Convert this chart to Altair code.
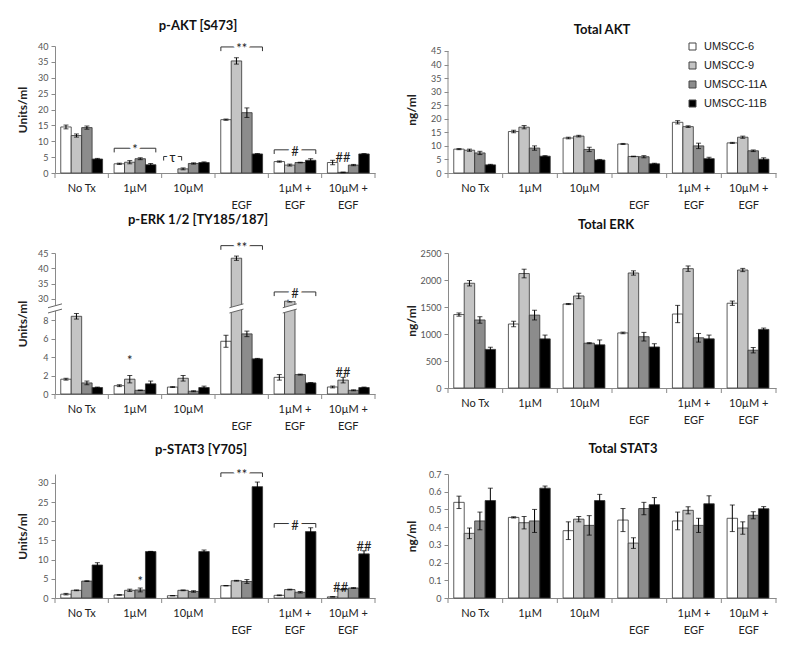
import altair as alt
import pandas as pd

# ---------------- data ----------------
groups = ["No Tx", "1µM", "10µM", "EGF", "1µM + EGF", "10µM + EGF"]
series = ["UMSCC-6", "UMSCC-9", "UMSCC-11A", "UMSCC-11B"]
shade = ["#ffffff", "#c4c4c4", "#8c8c8c", "#000000"]

pakt_val = [[14.5, 11.8, 14.3, 4.4], [2.9, 3.4, 4.5, 2.6], [None, 1.3, 3.0, 3.3],
            [16.8, 35.3, 19.0, 6.0], [3.6, 2.5, 3.3, 4.0], [3.3, 0.2, 2.5, 6.0]]
pakt_err = [[0.6, 0.5, 0.5, 0.2], [0.2, 0.5, 0.3, 0.4], [0.0, 0.3, 0.2, 0.2],
            [0.2, 1.0, 1.5, 0.1], [0.2, 0.3, 0.1, 0.5], [0.7, 0.1, 0.2, 0.1]]

takt_val = [[8.8, 8.4, 7.4, 3.0], [15.3, 16.9, 9.2, 6.2], [12.9, 13.6, 8.7, 4.8],
            [10.7, 6.1, 6.0, 3.4], [18.7, 17.1, 10.0, 5.3], [11.1, 13.2, 8.2, 5.1]]
takt_err = [[0.2, 0.4, 0.6, 0.2], [0.5, 0.6, 0.8, 0.2], [0.3, 0.3, 0.8, 0.2],
            [0.2, 0.1, 0.4, 0.2], [0.6, 0.3, 1.0, 0.5], [0.2, 0.4, 0.3, 0.5]]

perk_val = [[1.6, 8.4, 1.2, 0.7], [0.9, 1.6, 0.4, 1.1], [0.75, 1.7, 0.3, 0.7],
            [5.7, 43.3, 6.5, 3.8], [1.8, 29.3, 2.1, 1.2], [0.76, 1.5, 0.4, 0.7]]
perk_err = [[0.1, 0.3, 0.2, 0.05], [0.1, 0.4, 0.03, 0.3], [0.05, 0.3, 0.05, 0.15],
            [0.65, 0.7, 0.3, 0.05], [0.3, 0.3, 0.05, 0.03], [0.1, 0.3, 0.05, 0.05]]

terk_val = [[1360, 1940, 1260, 715], [1185, 2120, 1350, 910], [1555, 1705, 830, 800],
            [1020, 2130, 950, 760], [1370, 2210, 930, 910], [1570, 2185, 700, 1085]]
terk_err = [[30, 50, 60, 40], [50, 80, 90, 70], [10, 50, 10, 90],
            [15, 40, 80, 60], [160, 50, 80, 70], [40, 30, 50, 25]]

pstat_val = [[1.0, 2.0, 4.4, 8.6], [0.8, 2.0, 2.1, 12.1], [0.6, 2.0, 1.7, 12.1],
             [3.2, 4.5, 4.3, 29.0], [0.7, 2.2, 1.5, 17.3], [0.3, 2.2, 2.6, 11.5]]
pstat_err = [[0.2, 0.1, 0.1, 0.6], [0.1, 0.3, 0.5, 0.05], [0.05, 0.1, 0.2, 0.4],
             [0.05, 0.1, 0.5, 1.2], [0.1, 0.1, 0.2, 1.0], [0.05, 0.1, 0.1, 0.8]]

tstat_val = [[0.54, 0.365, 0.435, 0.55], [0.455, 0.425, 0.435, 0.62], [0.38, 0.445, 0.41, 0.55],
             [0.44, 0.31, 0.505, 0.527], [0.435, 0.495, 0.41, 0.532], [0.45, 0.395, 0.467, 0.504]]
tstat_err = [[0.035, 0.03, 0.05, 0.07], [0.003, 0.035, 0.065, 0.012], [0.05, 0.015, 0.055, 0.035],
             [0.065, 0.03, 0.035, 0.04], [0.05, 0.02, 0.04, 0.045], [0.075, 0.035, 0.02, 0.012]]

# significance annotations (group, [series], y value, symbol)
pakt_brackets = [("1µM", 7.8, "*"), ("EGF", 39.7, "**"), ("1µM + EGF", 7.3, "#")]
pakt_narrow = [("10µM", "UMSCC-6", 5.2, "τ")]
pakt_notes = [("10µM + EGF", "UMSCC-9", 5.2, "##")]

perk_brackets = [("EGF", 47.4, "**"), ("1µM + EGF", 32.3, "#")]
perk_notes = [("1µM", "UMSCC-9", 3.8, "*"), ("10µM + EGF", "UMSCC-9", 2.5, "##")]
perk_breaks = [("EGF", "UMSCC-9", 18.5), ("1µM + EGF", "UMSCC-9", 18.5)]

pstat_brackets = [("EGF", 32.6, "**"), ("1µM + EGF", 19.4, "#")]
pstat_notes = [("1µM", "UMSCC-11A", 4.6, "*"), ("10µM + EGF", "UMSCC-11B", 13.8, "##")]
pstat_side_notes = [("10µM + EGF", "UMSCC-6", 3.0, "##")]

# ---------------- helpers ----------------
LEFT_W, RIGHT_W = 320, 328
FONT = "Lato"
AXIS_GREY = "#8a8a8a"

LABEL_EXPR = ("datum.value == 'EGF' ? ['\u00a0', 'EGF'] : "
              "(indexof(datum.value, ' + EGF') > 0 ? [replace(datum.value, ' EGF', ''), 'EGF'] : datum.value)")

BRACKET = "M -1 0.2 L -1 0 L 1 0 L 1 0.2"
BRACKET_NARROW = "M -1 0.45 L -1 0 L 1 0 L 1 0.45"
BREAK_FILL = "M -1 -0.1 L 1 -0.65 L 1 0.1 L -1 0.65 Z"
BREAK_LINES = "M -1 -0.1 L 1 -0.65 M -1 0.65 L 1 0.1"

LEG = alt.Legend(title=None, orient="none", legendX=632, legendY=-5, symbolType="square",
                 symbolSize=49, symbolStrokeColor="#444", symbolStrokeWidth=1,
                 labelFont="Liberation Sans", labelFontSize=11, labelColor="#222",
                 rowPadding=7, labelOffset=6, padding=0)


def table(vals, errs):
    rows = []
    for g, vrow, erow in zip(groups, vals, errs):
        for s, v, e in zip(series, vrow, erow):
            if v is None:
                continue
            rows.append({"group": g, "series": s, "value": v, "lo": v - e, "hi": v + e})
    return pd.DataFrame(rows)


def panel(title, title_dx, title_offset, ytitle, title_x, vals, errs, width, height,
          yscale, yvalues, yfmt, brackets=(), narrow=(), notes=(), side_notes=(),
          breaks=(), axis_top=None):
    step = width / len(groups)
    xaxis = alt.Axis(title=None, ticks=False, labelAngle=0, labelExpr=LABEL_EXPR,
                     labelFont=FONT, labelFontSize=11, labelColor="#222", labelPadding=9,
                     labelLineHeight=17, labelOverlap=False, labelBound=False,
                     domainColor=AXIS_GREY)
    xscale = alt.Scale(domain=groups, paddingInner=0, paddingOuter=0)

    def X(**kw):
        return alt.X("group:N", sort=groups, scale=xscale, axis=xaxis, **kw)

    XO = alt.XOffset("series:N", sort=series,
                     scale=alt.Scale(domain=series, paddingInner=0, paddingOuter=0.55))
    yaxis = alt.Axis(values=yvalues, format=yfmt, title=ytitle, grid=False,
                     domain=axis_top is None, domainColor=AXIS_GREY, tickColor=AXIS_GREY,
                     tickSize=4, labelFont=FONT, labelFontSize=9, labelColor="#555",
                     labelPadding=3, titleFont=FONT, titleFontSize=12, titleFontWeight="bold",
                     titleColor="#222", titleX=title_x)

    def Y(field):
        return alt.Y(field, type="quantitative", scale=yscale, axis=yaxis)

    df = table(vals, errs)
    base = alt.Chart(df)
    layers = [
        base.mark_bar(stroke="#333", strokeWidth=0.8).encode(
            x=X(), xOffset=XO, y=Y("value"),
            color=alt.Color("series:N", sort=series,
                            scale=alt.Scale(domain=series, range=shade), legend=LEG)),
        base.mark_rule(color="black", strokeWidth=1).encode(
            x=X(), xOffset=XO, y=Y("lo"), y2="hi:Q"),
        base.mark_tick(color="black", size=5, thickness=1, orient="horizontal").encode(
            x=X(), xOffset=XO, y=Y("lo")),
        base.mark_tick(color="black", size=5, thickness=1, orient="horizontal").encode(
            x=X(), xOffset=XO, y=Y("hi")),
    ]
    gdf = pd.DataFrame({"group": groups})
    layers.append(alt.Chart(gdf).mark_rule(color=AXIS_GREY).encode(
        x=X(bandPosition=0), y=alt.value(height), y2=alt.value(height + 5)))
    layers.append(alt.Chart(gdf.tail(1)).mark_rule(color=AXIS_GREY).encode(
        x=X(bandPosition=1), y=alt.value(height), y2=alt.value(height + 5)))
    if axis_top is not None:
        layers.append(alt.Chart(pd.DataFrame({"lo": [0], "hi": [axis_top]})).mark_rule(
            color=AXIS_GREY).encode(x=alt.value(0), y=Y("lo"), y2="hi:Q"))
    if breaks:
        bdf = pd.DataFrame(breaks, columns=["group", "series", "y"])
        adf = pd.DataFrame({"y": [breaks[0][2]]})
        for d, enc in ((bdf, dict(x=X(), xOffset=XO)), (adf, dict(x=alt.value(0)))):
            layers.append(alt.Chart(d).mark_point(shape=BREAK_FILL, size=196, filled=True,
                                                  color="white", opacity=1, strokeWidth=0)
                          .encode(y=Y("y"), **enc))
            layers.append(alt.Chart(d).mark_point(shape=BREAK_LINES, size=196, filled=False,
                                                  color="#666", opacity=1, strokeWidth=1)
                          .encode(y=Y("y"), **enc))
    text_kw = dict(font=FONT, fontSize=13, baseline="middle", dy=2)
    if brackets:
        kdf = pd.DataFrame(brackets, columns=["group", "y", "sym"])
        bw = step * 0.78
        k = alt.Chart(kdf)
        layers += [
            k.mark_point(shape=BRACKET, size=bw * bw, filled=False, color="#333",
                         opacity=1, strokeWidth=1).encode(x=X(), y=Y("y")),
            k.mark_text(color="white", stroke="white", strokeWidth=6, **text_kw).encode(
                x=X(), y=Y("y"), text="sym:N"),
            k.mark_text(color="#222", **text_kw).encode(x=X(), y=Y("y"), text="sym:N"),
        ]
    if narrow:
        ndf = pd.DataFrame(narrow, columns=["group", "series", "y", "sym"])
        n = alt.Chart(ndf)
        layers += [
            n.mark_point(shape=BRACKET_NARROW, size=18 * 18, filled=False, color="#333",
                         opacity=1, strokeWidth=1).encode(x=X(), xOffset=XO, y=Y("y")),
            n.mark_text(color="white", stroke="white", strokeWidth=5, **text_kw).encode(
                x=X(), xOffset=XO, y=Y("y"), text="sym:N"),
            n.mark_text(color="#222", **text_kw).encode(x=X(), xOffset=XO, y=Y("y"),
                                                        text="sym:N"),
        ]
    if notes:
        mdf = pd.DataFrame(notes, columns=["group", "series", "y", "sym"])
        layers.append(alt.Chart(mdf).mark_text(color="#222", **text_kw).encode(
            x=X(), xOffset=XO, y=Y("y"), text="sym:N"))
    if side_notes:
        ldf = pd.DataFrame(side_notes, columns=["group", "series", "y", "sym"])
        layers.append(alt.Chart(ldf).mark_text(color="#222", align="center", dx=8,
                                               font=FONT, fontSize=13, baseline="middle",
                                               dy=2).encode(
            x=X(), xOffset=XO, y=Y("y"), text="sym:N"))
    return alt.layer(*layers).properties(
        width=width, height=height,
        title=alt.TitleParams(title, font=FONT, fontSize=13, fontWeight="bold", color="#111",
                              anchor="middle", frame="group", dx=title_dx,
                              offset=title_offset))


p_akt = panel("p-AKT [S473]", -17, 9, "Units/ml", -26, pakt_val, pakt_err, LEFT_W, 127,
              alt.Scale(domain=[0, 40], nice=False), list(range(0, 41, 5)), "d",
              brackets=pakt_brackets, narrow=pakt_narrow, notes=pakt_notes)
t_akt = panel("Total AKT", -10, 9, "ng/ml", -30, takt_val, takt_err, RIGHT_W, 127,
              alt.Scale(domain=[0, 46.84], nice=False), list(range(0, 46, 5)), "d",
              axis_top=45)
p_erk = panel("p-ERK 1/2 [TY185/187]", -17, 15, "Units/ml", -26, perk_val, perk_err, LEFT_W,
              141, alt.Scale(domain=[0, 8.8, 28.3, 45], range=[141, 59.6, 51.2, 0],
                             nice=False, zero=False),
              [0, 2, 4, 6, 8, 30, 35, 40, 45], "d",
              brackets=perk_brackets, notes=perk_notes, breaks=perk_breaks)
t_erk = panel("Total ERK", -6, 17, "ng/ml", -30, terk_val, terk_err, RIGHT_W, 135,
              alt.Scale(domain=[0, 2500], nice=False), list(range(0, 2501, 500)), "d")
p_stat = panel("p-STAT3 [Y705]", -14, 12, "Units/ml", -26, pstat_val, pstat_err, LEFT_W, 124,
               alt.Scale(domain=[0, 32.3], nice=False), list(range(0, 31, 5)), "d",
               brackets=pstat_brackets, notes=pstat_notes, side_notes=pstat_side_notes)
t_stat = panel("Total STAT3", 11, 14, "ng/ml", -30, tstat_val, tstat_err, RIGHT_W, 124,
               alt.Scale(domain=[0, 0.7], nice=False),
               [0, 0.1, 0.2, 0.3, 0.4, 0.5, 0.6, 0.7], ".1~f")

chart = alt.concat(p_akt, t_akt, p_erk, t_erk, p_stat, t_stat, columns=2,
                   spacing={"row": 80, "column": 73}, bounds="flush").properties(
    padding={"left": 8, "top": 12, "right": 0, "bottom": 0}, background="white"
).configure_view(stroke=None)

chart.save("out.html", embed_options={"renderer": "svg", "actions": False})
